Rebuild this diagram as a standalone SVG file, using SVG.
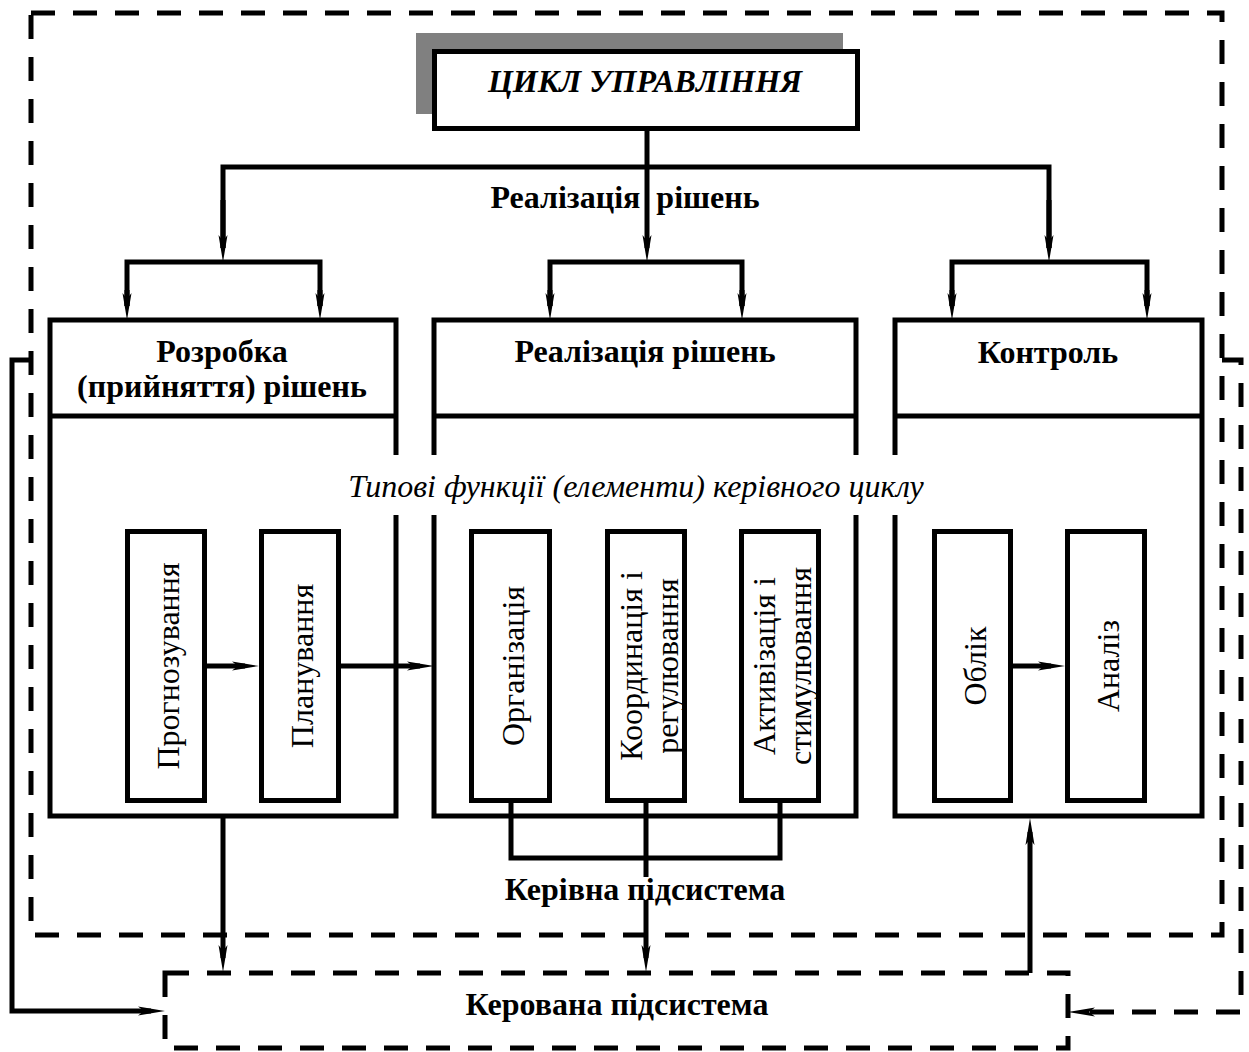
<svg xmlns="http://www.w3.org/2000/svg" width="1249" height="1052" viewBox="0 0 1249 1052">
<style>
.bx{fill:none;stroke:#000;stroke-width:5}
.ln{fill:none;stroke:#000;stroke-width:5}
.ds{fill:none;stroke:#000;stroke-width:5;stroke-dasharray:24 18}
.t{font-family:"Liberation Serif","Times New Roman",serif;fill:#000}
.b{font-weight:bold;font-size:32px;text-anchor:middle}
.v{font-size:32px;text-anchor:middle}
</style>
<defs>
<marker id="ah" markerUnits="userSpaceOnUse" markerWidth="40" markerHeight="20" viewBox="-20 -10 40 20" refX="0" refY="0" orient="auto" overflow="visible">
<path d="M14,0 L-13,-4.5 L-7,0 L-13,4.5 Z" fill="#000"/>
</marker>
</defs>
<rect width="1249" height="1052" fill="#fff"/>

<g id="kerivna-pidsystema">
<rect class="ds" x="31" y="13" width="1191" height="922"/>
<text class="t b" x="645" y="900">Керівна підсистема</text>
</g>

<g id="kerovana-pidsystema">
<rect class="ds" x="165" y="973" width="903" height="75"/>
<text class="t b" x="617" y="1015">Керована підсистема</text>
</g>

<g id="tsykl">
<rect x="416" y="33" width="427" height="81" fill="#808080"/>
<rect x="434.5" y="51.5" width="423" height="77" fill="#fff" stroke="#000" stroke-width="5"/>
<text class="t" x="645" y="92" font-size="32" font-weight="bold" font-style="italic" text-anchor="middle">ЦИКЛ УПРАВЛІННЯ</text>
</g>

<g id="label-realizatsiia">
<text class="t b" x="625" y="208" xml:space="preserve">Реалізація  рішень</text>
</g>

<g id="rozrobka">
<path class="bx" d="M396,455 V320 H50 V816 H396 V515 M50,416 H396"/>
<text class="t b" x="222" y="362">Розробка</text>
<text class="t b" x="222" y="397">(прийняття) рішень</text>
</g>

<g id="realizatsiia">
<path class="bx" d="M434,455 V320 H856 V455 M434,515 V816 H856 V515 M434,416 H856"/>
<text class="t b" x="645" y="362">Реалізація рішень</text>
</g>

<g id="kontrol">
<path class="bx" d="M895,455 V320 H1202 V816 H895 V515 M895,416 H1202"/>
<text class="t b" x="1048" y="363">Контроль</text>
</g>

<g id="typovi">
<text class="t" x="636" y="497" font-size="32" font-style="italic" text-anchor="middle">Типові функції (елементи) керівного циклу</text>
</g>

<g id="prohnozuvannia">
<rect class="bx" x="127.5" y="531.5" width="77" height="269"/>
<text class="t v" transform="translate(166,666) rotate(-90)" y="13">Прогнозування</text>
</g>
<g id="planuvannia">
<rect class="bx" x="261.5" y="531.5" width="77" height="269"/>
<text class="t v" transform="translate(300,666) rotate(-90)" y="13">Планування</text>
</g>
<g id="orhanizatsiia">
<rect class="bx" x="471.5" y="531.5" width="78" height="269"/>
<text class="t v" transform="translate(510,666) rotate(-90)" y="14">Організація</text>
</g>
<g id="koordynatsiia">
<rect class="bx" x="607.5" y="531.5" width="77" height="269"/>
<text class="t v" transform="translate(646,666) rotate(-90)" y="-4">Координація і</text>
<text class="t v" transform="translate(646,666) rotate(-90)" y="32">регулювання</text>
</g>
<g id="aktyvizatsiia">
<rect class="bx" x="741.5" y="531.5" width="77" height="269"/>
<text class="t v" transform="translate(780,666) rotate(-90)" y="-5">Активізація і</text>
<text class="t v" transform="translate(780,666) rotate(-90)" y="31">стимулювання</text>
</g>
<g id="oblik">
<rect class="bx" x="934.5" y="531.5" width="76" height="269"/>
<text class="t v" transform="translate(973,666) rotate(-90)" y="13">Облік</text>
</g>
<g id="analiz">
<rect class="bx" x="1067.5" y="531.5" width="77" height="269"/>
<text class="t v" transform="translate(1106,666) rotate(-90)" y="13">Аналіз</text>
</g>

<g id="connectors">
<path class="ln" d="M647,131 V248" marker-end="url(#ah)"/>
<path class="ln" d="M223,248 V167 H1049 V248" />
<path class="ln" d="M223,200 V248" marker-end="url(#ah)"/>
<path class="ln" d="M1049,200 V248" marker-end="url(#ah)"/>
<path class="ln" d="M127,306 V262 H320 V306"/>
<path class="ln" d="M127,290 V306" marker-end="url(#ah)"/>
<path class="ln" d="M320,290 V306" marker-end="url(#ah)"/>
<path class="ln" d="M550,306 V262 H742 V306"/>
<path class="ln" d="M550,290 V306" marker-end="url(#ah)"/>
<path class="ln" d="M742,290 V306" marker-end="url(#ah)"/>
<path class="ln" d="M952,306 V262 H1147 V306"/>
<path class="ln" d="M952,290 V306" marker-end="url(#ah)"/>
<path class="ln" d="M1147,290 V306" marker-end="url(#ah)"/>
<path class="ln" d="M207,666 H245" marker-end="url(#ah)"/>
<path class="ln" d="M340,666 H420" marker-end="url(#ah)"/>
<path class="ln" d="M1013,666 H1051" marker-end="url(#ah)"/>
<path class="ln" d="M511,803 V858 H780 V803"/>
<path class="ln" d="M646,803 V877"/>
<path class="ln" d="M646,900 V958" marker-end="url(#ah)"/>
<path class="ln" d="M223,816 V958" marker-end="url(#ah)"/>
<path class="ln" d="M1030,973 V832" marker-end="url(#ah)"/>
<path class="ln" d="M31,360 H12 V1011 H151" marker-end="url(#ah)"/>
<path class="ds" d="M1222,360 H1241 V1012 H1082" marker-end="url(#ah)"/>
</g>
</svg>
